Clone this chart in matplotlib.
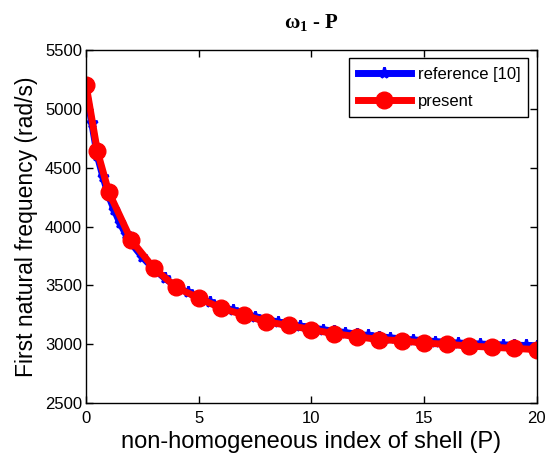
import numpy as np
import matplotlib
matplotlib.use('Agg')
import matplotlib.pyplot as plt

# data
p_ref = [0, 0.25, 0.5, 0.75, 1, 1.25, 1.5, 1.75, 2, 2.5, 3, 3.5, 4, 4.5, 5, 5.5,
         6, 6.5, 7, 7.5, 8, 8.5, 9, 9.5, 10, 10.5, 11, 11.5, 12, 12.5, 13, 13.5,
         14, 14.5, 15, 15.5, 16, 16.5, 17, 17.5, 18, 18.5, 19, 19.5, 20]
w_ref = [5170, 4880, 4600, 4420, 4260, 4140, 4030, 3940, 3860, 3740, 3640, 3560,
         3490, 3440, 3395, 3355, 3320, 3290, 3260, 3235, 3210, 3190, 3170, 3155,
         3140, 3125, 3110, 3100, 3085, 3075, 3065, 3055, 3045, 3038, 3030, 3023,
         3017, 3011, 3006, 3002, 2998, 2995, 2992, 2990, 2988]

p_present = [0, 0.5, 1, 2, 3, 4, 5, 6, 7, 8, 9, 10, 11, 12, 13, 14, 15, 16, 17, 18, 19, 20]
w_present = [5200, 4640, 4295, 3885, 3648, 3483, 3392, 3306, 3250, 3190, 3160, 3125,
             3090, 3065, 3040, 3030, 3010, 3000, 2985, 2975, 2965, 2955]

plt.rcParams['font.family'] = ['Liberation Sans', 'DejaVu Sans']
plt.rcParams['mathtext.fontset'] = 'custom'
plt.rcParams['mathtext.bf'] = 'Liberation Serif:bold'
plt.rcParams['mathtext.rm'] = 'Liberation Serif:bold'
plt.rcParams['mathtext.it'] = 'Liberation Serif:bold'

fig = plt.figure(figsize=(5.45, 4.54), dpi=100)
ax = fig.add_axes([0.158, 0.112, 0.827, 0.778])

ax.plot(p_ref, w_ref, color='b', lw=5, marker='*', ms=8, mew=2, label='reference [10]')
ax.plot(p_present, w_present, color='r', lw=5, marker='o', ms=12, label='present')

ax.set_xlim(0, 20)
ax.set_ylim(2500, 5500)
ax.set_xticks([0, 5, 10, 15, 20])
ax.set_yticks(np.arange(2500, 5501, 500))
ax.tick_params(direction='in', top=True, right=True, labelsize=12, length=5, width=1)
ax.tick_params(axis='x', pad=6)
ax.tick_params(axis='y', pad=3)
for s in ax.spines.values():
    s.set_linewidth(1)

ax.set_title(r'$\mathbf{\omega_1}$ - P', family='Liberation Serif', fontweight='bold',
             fontsize=15, pad=16)
ax.set_xlabel('non-homogeneous index of shell (P)', fontsize=17, labelpad=3.5)
ax.set_ylabel('First natural frequency (rad/s)', fontsize=16.5, labelpad=5)

leg = ax.legend(loc='upper right', fontsize=12, handlelength=3.2, handletextpad=0.4,
                fancybox=False, edgecolor='k', framealpha=1, borderaxespad=0.5,
                labelspacing=0.75, borderpad=0.5)
leg.get_frame().set_linewidth(1)

fig.savefig('out.png', dpi=100)
